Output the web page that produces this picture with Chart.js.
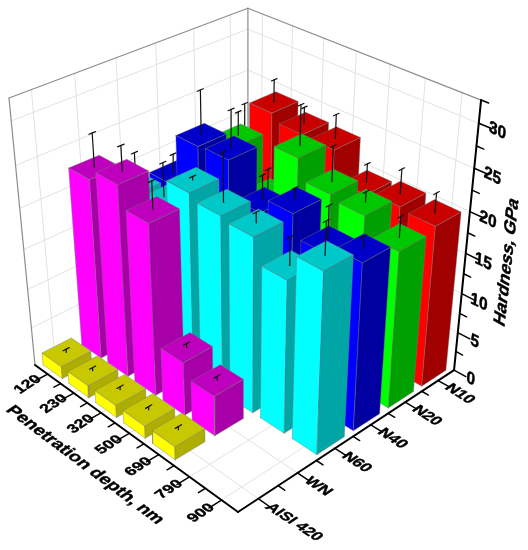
<!DOCTYPE html>
<html>
<head>
<meta charset="utf-8">
<style>html,body{margin:0;padding:0;background:#fff}canvas{display:block}</style>
<script src="https://cdn.jsdelivr.net/npm/chart.js@4"></script>
</head>
<body>
<canvas id="c" width="528" height="550"></canvas>
<script>
// ---- data ----
const depths = ["120","230","320","500","690","790","900"];
const seriesNames = ["AISI 420","WN","N60","N40","N20","N10"];
const hardnessTicks = [0,5,10,15,20,25,30];
const zMax = 32.5;

const aisi420 = [1.6,1.6,1.6,1.6,1.7,null,null];
const wn      = [22.6,23.9,21.4,6.8,5.1,null,null];
const n60     = [18.5,18.8,22.7,22.0,21.6,18.8,22.0];
const n40     = [17.9,24.2,24.4,20.1,22.0,19.4,20.5];
const n20     = [17.0,22.2,17.2,24.4,22.0,21.5,19.4];
const n10     = [17.9,24.3,23.4,23.3,19.8,20.3,20.0];

const aisi420Err = [0.4,0.4,0.4,0.4,0.4,null,null];
const wnErr      = [4.0,3.0,3.3,0.5,0.5,null,null];
const n60Err     = [3.8,4.1,0.4,5.7,1.2,3.2,3.8];
const n40Err     = [2.2,5.2,4.4,2.9,1.4,3.9,1.3];
const n20Err     = [1.0,2.8,2.6,4.7,4.1,1.2,2.4];
const n10Err     = [4.6,2.7,1.9,2.8,2.2,2.9,2.3];

const rows = [aisi420,wn,n60,n40,n20,n10];
const rowErrs = [aisi420Err,wnErr,n60Err,n40Err,n20Err,n10Err];
// colours: [front, top, side]
const rowColors = [
  ["#ffff00","#c8c800","#aeae00"],
  ["#ff00ff","#be00be","#a800a8"],
  ["#00ffff","#00c8c8","#00a6a6"],
  ["#0000ff","#0000c8","#0000a0"],
  ["#00ff00","#00c800","#00a000"],
  ["#ff0000","#c80000","#a00000"]
];

// ---- camera: unit box (s along depth, t along series, w up) to canvas values ----
function project(s,t,w){
  const h = 1 - 0.132*s + 0.12*t - 0.1116*w;
  return {x:(35 + 171.6*s + 242*t - 27*w)/h, y:(365 + 79.4*s - 78.8*t - 277.9*w)/h};
}
const W = v => v/zMax;
const sC = i => (i+0.5)/depths.length;
const tC = j => (j+0.5)/seriesNames.length;

// ---- datasets in painting order ----
const datasets = [];
function add(points, o){
  const d = Object.assign({type:'scatter',showLine:true,data:points,pointRadius:0,pointHoverRadius:0,
    tension:0,clip:false,fill:false,borderWidth:1,borderColor:'#000',order:-datasets.length}, o);
  datasets.push(d);
}
function seg(a,b,color,width){ add([project(...a),project(...b)],{borderColor:color,borderWidth:width}); }
const GRID = '#e2e2e2', FRAME = '#8c8c8c';

// grid on floor and walls
for(let i=0;i<depths.length;i++){
  const s=sC(i);
  seg([s,0,0],[s,1,0],GRID,1);
  seg([s,1,0],[s,1,1],GRID,1);
}
for(let j=0;j<seriesNames.length;j++){
  const t=tC(j);
  seg([0,t,0],[1,t,0],GRID,1);
  seg([0,t,0],[0,t,1],GRID,1);
}
hardnessTicks.slice(1).forEach(v=>{
  seg([0,0,W(v)],[0,1,W(v)],GRID,1);
  seg([0,1,W(v)],[1,1,W(v)],GRID,1);
});
// wall frame
seg([0,0,0],[0,0,1],FRAME,1.2);
seg([0,1,0],[0,1,1],FRAME,1.2);
seg([0,0,1],[0,1,1],FRAME,1.2);
seg([0,1,1],[1,1,1],FRAME,1.2);

// bars, back to front
const BAR = 0.75, EDGE = 'rgba(120,120,120,0.6)';
function poly(corners,fill){
  const p = corners.concat([corners[0]]).map(c=>project(...c));
  add(p,{fill:'shape',backgroundColor:fill,borderColor:EDGE,borderWidth:0.7});
}
for(let j=seriesNames.length-1;j>=0;j--){
  for(let i=0;i<depths.length;i++){
    const v = rows[j][i];
    if(v==null) continue;
    const e = rowErrs[j][i], c = rowColors[j];
    const ds = BAR/2/depths.length, dt = BAR/2/seriesNames.length;
    const s0=sC(i)-ds, s1=sC(i)+ds, t0=tC(j)-dt, t1=tC(j)+dt, w=W(v);
    poly([[s0,t0,0],[s1,t0,0],[s1,t0,w],[s0,t0,w]],c[0]);
    poly([[s1,t0,0],[s1,t1,0],[s1,t1,w],[s1,t0,w]],c[2]);
    poly([[s0,t0,w],[s1,t0,w],[s1,t1,w],[s0,t1,w]],c[1]);
    const top = W(v+e);
    seg([sC(i),tC(j),w],[sC(i),tC(j),top],'#111',1.2);
    seg([sC(i),tC(j)-0.013,top],[sC(i),tC(j)+0.013,top],'#111',1.2);
  }
}

// axes
seg([0,0,0],[1,0,0],'#000',2);
seg([1,0,0],[1,1,0],'#000',2);
seg([1,1,0],[1,1,1],'#000',2);
for(let k=0;k<=depths.length*2;k++){
  if(k===0||k===depths.length*2) continue;
  const major = k%2===1, s=k/(depths.length*2);
  seg([s,0,0],[s,major?-0.05:-0.028,0],'#000',1.5);
}
for(let k=1;k<seriesNames.length*2;k++){
  const major = k%2===1, t=k/(seriesNames.length*2);
  seg([1,t,0],[major?1.05:1.028,t,0],'#000',1.5);
}
for(let v=0;v<=zMax;v+=2.5){
  const major = v%5===0;
  seg([1,1,W(v)],[major?1.05:1.028,1,W(v)],'#000',1.5);
}

// text drawn through the chart's own scales
const textPlugin = {
  id:'axisText',
  afterDatasetsDraw(chart){
    const {ctx,scales:{x,y}} = chart;
    const put = (str,pos,ex,ey,size,align) => {
      ctx.save();
      ctx.font = 'bold '+size+'px "Liberation Sans", Arial, sans-serif';
      ctx.fillStyle = '#000';
      ctx.strokeStyle = '#000';
      ctx.lineWidth = 0.45;
      ctx.textAlign = align||'center';
      ctx.textBaseline = 'middle';
      ctx.transform(ex[0],ex[1],ey[0],ey[1],x.getPixelForValue(pos.x),y.getPixelForValue(pos.y));
      ctx.fillText(str,0,0);
      ctx.strokeText(str,0,0);
      ctx.restore();
    };
    const alongT=[0.835,-0.55], alongS=[0.84,0.54], downT=[-0.78,0.52];
    depths.forEach((d,i)=>put(d,project(sC(i),-0.082,0),alongT,[0.74,0.54],16));
    seriesNames.forEach((n,j)=>put(n,project(1.04,tC(j),0),alongS,downT,16,'left'));
    hardnessTicks.forEach(v=>put(String(v),project(1.07,1,W(v)),[0.9,0.43],[-0.1,0.995],17));
    put('Penetration depth, nm',{x:85,y:465},[0.8,0.6],downT,18);
    put('Hardness, GPa',{x:507,y:262},[0.11,-0.99],[0.88,0.48],18);
  }
};

new Chart(document.getElementById('c'),{
  type:'scatter',
  data:{datasets},
  plugins:[textPlugin],
  options:{
    responsive:false,animation:false,
    layout:{padding:0},
    plugins:{legend:{display:false},tooltip:{enabled:false}},
    elements:{line:{borderCapStyle:'round'}},
    scales:{
      x:{type:'linear',min:0,max:528,display:false},
      y:{type:'linear',min:0,max:550,reverse:true,display:false}
    }
  }
});
</script>
</body>
</html>
